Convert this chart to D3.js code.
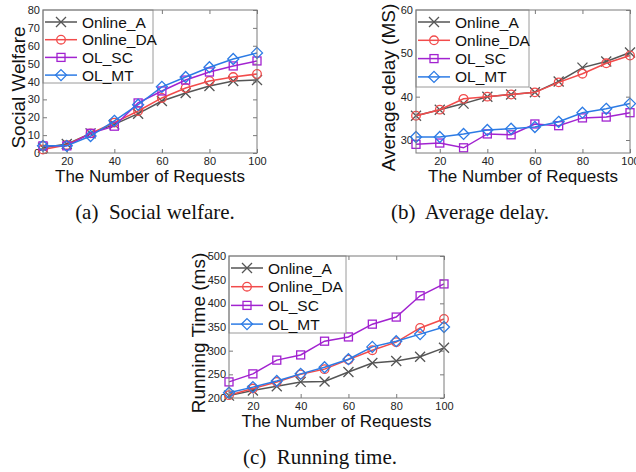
<!DOCTYPE html>
<html><head><meta charset="utf-8">
<script src="https://cdn.jsdelivr.net/npm/d3@7"></script>
<style>body{margin:0;background:#fff}svg{display:block}</style>
</head><body>
<svg id="c" width="636" height="472"></svg>
<script>
// ---- data ----
const requests = [10,20,30,40,50,60,70,80,90,100];
const seriesNames = ["Online_A","Online_DA","OL_SC","OL_MT"];
const seriesColors = ["#555555","#f24b4b","#a223d0","#2c7be5"];
const seriesMarkers = ["x","circle","square","diamond"];

// (a) social welfare
const welfareA  = [3,5,11,16,22,29.1,33.6,37.5,40.3,40.8];
const welfareDA = [2,4.5,11,17,23.5,30.8,36.4,40.3,42.5,44.2];
const welfareSC = [4,4,11,15,28,34.7,40.8,45.3,48.7,51.5];
const welfareMT = [4,4,9.5,18,27,37,42.5,48,52.6,56];
const welfareTicks = [0,10,20,30,40,50,60,70,80];

// (b) average delay
const delayA  = [35.6,37,38.4,40,40.5,41,43.5,46.7,48.1,50.2];
const delayDA = [35.6,37,39.5,40,40.5,41,43.3,45.3,47.7,49.5];
const delaySC = [29,29.3,28.2,31.4,31.2,33.7,33.3,35.1,35.3,36.3];
const delayMT = [30.7,30.7,31.4,32.3,32.6,33,34.2,36.3,37.2,38.4];
const delayTicks = [30,40,50,60];

// (c) running time
const runA  = [205,216,225,234,235,255,274,278,287,306];
const runDA = [206,220,234,250,261,281,301,318,348,367];
const runSC = [234,251,280,291,320,329,356,371,416,441];
const runMT = [211,223,236,251,265,282,308,320,335,350];
const runTicks = [200,250,300,350,400,450,500];

const xTicks = [20,40,60,80,100];

const svg = d3.select("#c");
const SANS = "Liberation Sans, Arial, sans-serif";

function marker(g, type, color){
  if(type==="x"){
    const s=5;
    g.append("path").attr("d",`M${-s},${-s}L${s},${s}M${-s},${s}L${s},${-s}`)
      .attr("stroke",color).attr("stroke-width",1.3).attr("fill","none");
  } else if(type==="circle"){
    g.append("circle").attr("r",4.3).attr("fill","none").attr("stroke",color).attr("stroke-width",1.3);
  } else if(type==="square"){
    g.append("rect").attr("x",-4).attr("y",-4).attr("width",8).attr("height",8)
      .attr("fill","none").attr("stroke",color).attr("stroke-width",1.3);
  } else {
    const s=5.5;
    g.append("path").attr("d",`M0,${-s}L${s},0L0,${s}L${-s},0Z`)
      .attr("fill","none").attr("stroke",color).attr("stroke-width",1.3);
  }
}

function panel(o){
  const g = svg.append("g");
  const x = d3.scaleLinear().domain([10,100]).range([o.left,o.right]);
  const y = d3.scaleLinear().domain(o.ydom).range([o.bottom,o.top]);
  const frame="#7a7a7a";
  const tk=4;
  const xa = g.append("g").attr("transform",`translate(0,${o.bottom})`)
    .call(d3.axisBottom(x).tickValues(xTicks).tickSizeInner(-tk).tickSizeOuter(0).tickPadding(4));
  const xt = g.append("g").attr("transform",`translate(0,${o.top})`)
    .call(d3.axisTop(x).tickValues(xTicks).tickSizeInner(-tk).tickSizeOuter(0).tickFormat(""));
  const ya = g.append("g").attr("transform",`translate(${o.left},0)`)
    .call(d3.axisLeft(y).tickValues(o.yticks).tickSizeInner(-tk).tickSizeOuter(0).tickPadding(3));
  const yr = g.append("g").attr("transform",`translate(${o.right},0)`)
    .call(d3.axisRight(y).tickValues(o.yticks).tickSizeInner(-tk).tickSizeOuter(0).tickFormat(""));
  [xa,xt,ya,yr].forEach(a=>{
    a.select(".domain").remove();
    a.selectAll("line").attr("stroke",frame);
    a.selectAll("text").attr("font-family",SANS).attr("font-size",11).attr("fill","#222");
  });
  const line = d3.line().x((d,i)=>x(requests[i])).y(d=>y(d));
  o.series.forEach((vals,si)=>{
    g.append("path").datum(vals).attr("d",line).attr("fill","none")
      .attr("stroke",seriesColors[si]).attr("stroke-width",1.5);
    vals.forEach((v,i)=>{
      const m=g.append("g").attr("transform",`translate(${x(requests[i])},${y(v)})`);
      marker(m,seriesMarkers[si],seriesColors[si]);
    });
  });
  const lg = g.append("g");
  lg.append("rect").attr("x",o.left).attr("y",o.top).attr("width",o.legW).attr("height",o.legH)
    .attr("fill","#fff").attr("stroke","#9a9a9a").attr("stroke-width",1);
  seriesNames.forEach((n,si)=>{
    const yy = o.top + o.legY0 + si*o.legDy;
    lg.append("line").attr("x1",o.left+2).attr("x2",o.left+34).attr("y1",yy).attr("y2",yy)
      .attr("stroke",seriesColors[si]).attr("stroke-width",1.5);
    const m=lg.append("g").attr("transform",`translate(${o.left+18},${yy})`);
    marker(m,seriesMarkers[si],seriesColors[si]);
    lg.append("text").attr("x",o.left+39).attr("y",yy+5.5).text(n)
      .attr("font-family",SANS).attr("font-size",15.5).attr("fill","#111");
  });
  g.append("rect").attr("x",o.left).attr("y",o.top).attr("width",o.right-o.left).attr("height",o.bottom-o.top)
    .attr("fill","none").attr("stroke",frame).attr("stroke-width",1);
  g.append("text").attr("x",(o.left+o.right)/2).attr("y",o.bottom+29).attr("text-anchor","middle")
    .text("The Number of Requests").attr("font-family",SANS).attr("font-size",17).attr("fill","#111");
  g.append("text").attr("transform",`translate(${o.ylabX},${(o.top+o.bottom)/2+6}) rotate(-90)`)
    .attr("text-anchor","middle").text(o.ylabel)
    .attr("font-family",SANS).attr("font-size",19).attr("fill","#111");
  g.append("text").attr("x",o.capX).attr("y",o.capY).attr("text-anchor","middle")
    .attr("xml:space","preserve").style("white-space","pre").text(o.caption)
    .attr("font-family","Liberation Serif, Times New Roman, serif").attr("font-size",21).attr("fill","#111");
}

panel({left:43,right:257,top:10,bottom:153,ydom:[0,80],yticks:welfareTicks,
  series:[welfareA,welfareDA,welfareSC,welfareMT],ylabel:"Social Welfare",ylabX:25,
  legW:110,legH:73,legY0:12,legDy:17.7,caption:"(a)  Social welfare.",capX:155,capY:219});

panel({left:416,right:630,top:10,bottom:153,ydom:[27,60],yticks:delayTicks,
  series:[delayA,delayDA,delaySC,delayMT],ylabel:"Average delay (MS)",ylabX:395,
  legW:113,legH:77,legY0:12,legDy:18.3,caption:"(b)  Average delay.",capX:470,capY:219});

panel({left:229,right:444,top:256,bottom:398,ydom:[200,500],yticks:runTicks,
  series:[runA,runDA,runSC,runMT],ylabel:"Running Time (ms)",ylabX:205,
  legW:117,legH:77,legY0:12,legDy:18.7,caption:"(c)  Running time.",capX:320,capY:464});
</script>
</body></html>
